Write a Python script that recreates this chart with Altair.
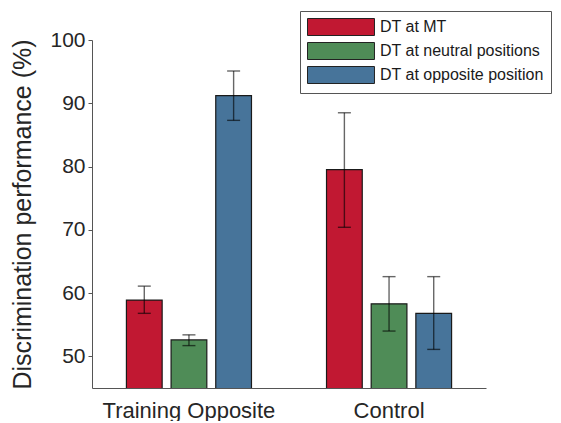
import altair as alt
import pandas as pd

group_order = ["Training Opposite", "Control"]
cond_order = ["DT at MT", "DT at neutral positions", "DT at opposite position"]
colors = ["#C11832", "#4F8C57", "#47749A"]

groups = ["Training Opposite"] * 3 + ["Control"] * 3
conditions = cond_order * 2
means = [58.9, 52.6, 91.2, 79.5, 58.3, 56.8]
err_low = [56.8, 51.7, 87.3, 70.4, 54.0, 51.1]
err_high = [61.1, 53.4, 95.1, 88.5, 62.6, 62.6]

df = pd.DataFrame({
    "group": groups,
    "condition": conditions,
    "mean": means,
    "lo": err_low,
    "hi": err_high,
})

FONT = "Liberation Sans"

x_enc = alt.X(
    "group:N",
    sort=group_order,
    scale=alt.Scale(paddingInner=0.375, paddingOuter=0.172),
    axis=alt.Axis(title=None, labelAngle=0, labelFontSize=22, tickSize=0,
                  labelPadding=12, labelColor="#262626", domainColor="#555555"),
)
xoff = alt.XOffset("condition:N", sort=cond_order,
                   scale=alt.Scale(paddingInner=0.2, paddingOuter=0))
y_scale = alt.Scale(domain=[45, 100], nice=False, zero=False)

bars = alt.Chart(df).mark_bar(stroke="#1a1a1a", strokeWidth=1.2, clip=True).encode(
    x=x_enc,
    xOffset=xoff,
    y=alt.Y("mean:Q", scale=y_scale,
            axis=alt.Axis(values=[50, 60, 70, 80, 90, 100], title="Discrimination performance (%)",
                          titleFontSize=25, titleFontWeight="normal", titlePadding=14,
                          titleColor="#262626", labelFontSize=21, labelColor="#262626",
                          tickSize=4, labelPadding=3, domainColor="#555555", tickColor="#555555",
                          grid=False)),
    color=alt.Color("condition:N", sort=cond_order,
                    scale=alt.Scale(domain=cond_order, range=colors),
                    legend=alt.Legend(
                        title=None, orient="none", legendX=208, legendY=-29,
                        symbolType="M-1,-1H6.88V1H-1Z", symbolSize=289,
                        symbolStrokeColor="#222222", symbolStrokeWidth=1,
                        symbolOpacity=1,
                        labelFontSize=16, labelOffset=55, labelLimit=300,
                        labelColor="#1a1a1a",
                        padding=7, strokeColor="#555555", fillColor="white",
                        rowPadding=2)),
)

rules = alt.Chart(df).mark_rule(color="black", opacity=0.6, strokeWidth=1.4).encode(
    x=alt.X("group:N", sort=group_order),
    xOffset=alt.XOffset("condition:N", sort=cond_order),
    y=alt.Y("lo:Q"),
    y2="hi:Q",
)
caps_lo = alt.Chart(df).mark_tick(color="black", opacity=0.6, size=13, thickness=1.4).encode(
    x=alt.X("group:N", sort=group_order),
    xOffset=alt.XOffset("condition:N", sort=cond_order),
    y=alt.Y("lo:Q"),
)
caps_hi = alt.Chart(df).mark_tick(color="black", opacity=0.6, size=13, thickness=1.4).encode(
    x=alt.X("group:N", sort=group_order),
    xOffset=alt.XOffset("condition:N", sort=cond_order),
    y=alt.Y("hi:Q"),
)

chart = alt.layer(bars, rules, caps_lo, caps_hi).properties(
    width=394, height=348,
    padding={"left": 2, "top": 2, "right": 0, "bottom": 0},
).configure(font=FONT).configure_view(stroke=None)

chart.save("out.html", embed_options={"renderer": "svg", "actions": False})
